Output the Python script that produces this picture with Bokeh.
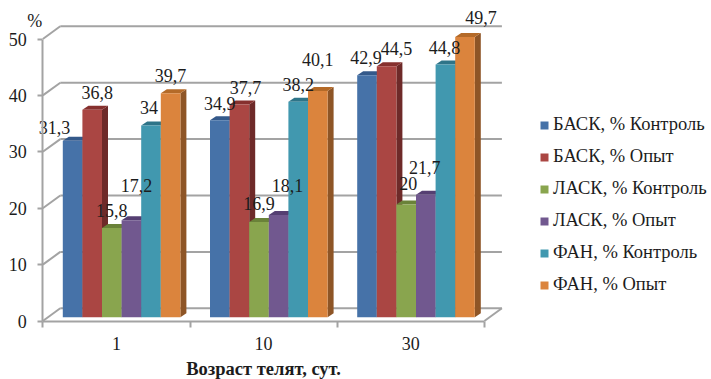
from bokeh.embed import file_html
from bokeh.resources import INLINE
from bokeh.core.properties import value
from bokeh.models import FixedTicker, Legend, LegendItem, LinearAxis, Range1d
from bokeh.plotting import figure

# Chart values
ages = ["1", "10", "30"]
y_ticks = [0, 10, 20, 30, 40, 50]
series_names = ["БАСК, % Контроль", "БАСК, % Опыт", "ЛАСК, % Контроль",
                "ЛАСК, % Опыт", "ФАН, % Контроль", "ФАН, % Опыт"]
bask_control = [31.3, 34.9, 42.9]
bask_trial = [36.8, 37.7, 44.5]
lask_control = [15.8, 16.9, 20]
lask_trial = [17.2, 18.1, 21.7]
fan_control = [34, 38.2, 44.8]
fan_trial = [39.7, 40.1, 49.7]
series = [bask_control, bask_trial, lask_control, lask_trial, fan_control, fan_trial]

# Face, top and side shades of each series
front_colors = ["#4672A8", "#AA4643", "#89A54E", "#71588F", "#4198AF", "#DB843D"]
top_colors = ["#34598A", "#86302E", "#6A8239", "#553F72", "#2E7488", "#B46A28"]
side_colors = ["#2C4B72", "#6E2A29", "#586C30", "#463460", "#27606F", "#8E5526"]

# Pixel offset of each value label from the top centre of its bar, per series and age
label_dx = [[-18, 0, -1], [5, 6, 10], [0, 0, 2], [5, 9, -1], [-2, 0, -1], [0, 0, 16]]
label_dy = [[-13, -17, -18], [-17, -17, -18], [-18, -18, -21], [-35, -30, -27],
            [-18, -17, -17], [-18, -32, -19]]

# Scales: one group spans 147.2 px, one percent spans 5.64 px
PX_X = 1 / 147.2
PX_Y = 1 / 5.64
ORIGIN_X, ORIGIN_Y = 42.3, 320.5
WIDTH, HEIGHT = 711, 379
BACK_DX, BACK_DY = 17.5 * PX_X, 12.7 * PX_Y
DEPTH_X, DEPTH_Y = 6 * PX_X, 4 * PX_Y
BAR_START, BAR_W = 20 * PX_X, 19.6 * PX_X
BASE = 3.8 * PX_Y
SERIF = "Times New Roman"
WALL = "#A3A3A3"
TEXT = "#1C1C1C"

p = figure(width=WIDTH, height=HEIGHT, output_backend="svg", toolbar_location=None,
           x_range=Range1d(-ORIGIN_X * PX_X, (WIDTH - ORIGIN_X) * PX_X),
           y_range=Range1d((ORIGIN_Y - HEIGHT) * PX_Y, ORIGIN_Y * PX_Y),
           x_axis_location=None, y_axis_location=None,
           min_border=0, background_fill_color="white", border_fill_color="white",
           outline_line_color=None)
p.grid.visible = False

# Axes pinned to the origin inside the frame
xa = LinearAxis(fixed_location=0)
ya = LinearAxis(fixed_location=0)
ya.ticker = FixedTicker(ticks=y_ticks)
ya.bounds = (y_ticks[0], y_ticks[-1])
ya.major_tick_in, ya.major_tick_out = 0, 5
ya.minor_tick_line_color = None
ya.major_label_standoff = 11
xa.ticker = FixedTicker(ticks=[i + 0.5 for i in range(len(ages))],
                        minor_ticks=list(range(len(ages) + 1)))
xa.major_label_overrides = {i + 0.5: a for i, a in enumerate(ages)}
xa.bounds = (0, len(ages))
xa.major_tick_line_color = None
xa.major_tick_in, xa.major_tick_out = 0, 0
xa.minor_tick_in, xa.minor_tick_out = 0, 6
xa.major_label_standoff = 10
for ax in (xa, ya):
    ax.axis_line_color = WALL
    ax.axis_line_width = 2
    ax.major_label_text_font = SERIF
    ax.major_label_text_font_size = "18px"
    ax.major_label_text_color = TEXT
xa.minor_tick_line_color = WALL
xa.minor_tick_line_width = 2
ya.major_tick_line_color = WALL
ya.major_tick_line_width = 2
p.add_layout(xa, "below")
p.add_layout(ya, "left")

# Back wall gridlines and the slanted lines joining them to the axes
n = len(ages)
p.multi_line(xs=[[BACK_DX, n + BACK_DX] for _ in y_ticks],
             ys=[[v + BACK_DY, v + BACK_DY] for v in y_ticks],
             line_color=WALL, line_width=2)
p.multi_line(xs=[[0, BACK_DX] for _ in y_ticks],
             ys=[[v, v + BACK_DY] for v in y_ticks],
             line_color=WALL, line_width=2)
p.line([n, n + BACK_DX], [0, BACK_DY], line_color=WALL, line_width=2)

# Bars: each gets a side and a top, then the front face; later bars cover earlier sides
legend_items = []
for s, vals in enumerate(series):
    lefts = [g + BAR_START + s * BAR_W for g in range(n)]
    rights = [l + BAR_W for l in lefts]
    tops = [v + BASE for v in vals]
    p.patches(xs=[[r, r + DEPTH_X, r + DEPTH_X, r] for r in rights],
              ys=[[BASE, BASE + DEPTH_Y, t + DEPTH_Y, t] for t in tops],
              fill_color=side_colors[s], line_color=None)
    p.patches(xs=[[l, l + DEPTH_X, r + DEPTH_X, r] for l, r in zip(lefts, rights)],
              ys=[[t, t + DEPTH_Y, t + DEPTH_Y, t] for t in tops],
              fill_color=top_colors[s], line_color=None)
    front = p.quad(left=lefts, right=rights, bottom=BASE, top=tops,
                   fill_color=front_colors[s], line_color=None)
    legend_items.append(LegendItem(label=series_names[s], renderers=[front]))

# Value labels, drawn over all the bars
for s, vals in enumerate(series):
    centers = [g + BAR_START + (s + 0.5) * BAR_W for g in range(n)]
    p.text(x=centers, y=[v + BASE for v in vals],
           text=[f"{v:g}".replace(".", ",") for v in vals],
           x_offset=label_dx[s], y_offset=label_dy[s],
           text_font=value(SERIF), text_font_size="18px", text_color=TEXT,
           text_align="center", text_baseline="middle")

# Titles of the two axes
p.text(x=[-8 * PX_X], y=[(ORIGIN_Y - 20) * PX_Y], text=["%"],
       text_font=value(SERIF), text_font_size="18px", text_color=TEXT,
       text_align="center", text_baseline="middle")
p.text(x=[n / 2], y=[-47.5 * PX_Y], text=["Возраст телят, сут."],
       text_font=value(SERIF), text_font_style="bold", text_font_size="18.5px", text_color=TEXT,
       text_align="center", text_baseline="middle")

# Legend column to the right of the plot
legend = Legend(items=legend_items, location=(539, 379 - 295),
                background_fill_alpha=0, border_line_color=None, padding=0, margin=0,
                spacing=11, glyph_width=10, glyph_height=10, label_height=20,
                label_standoff=4, label_text_font=SERIF, label_text_font_size="18.5px",
                label_text_color=TEXT)
p.add_layout(legend, "center")

open("out.html", "w").write(file_html(p, INLINE))
